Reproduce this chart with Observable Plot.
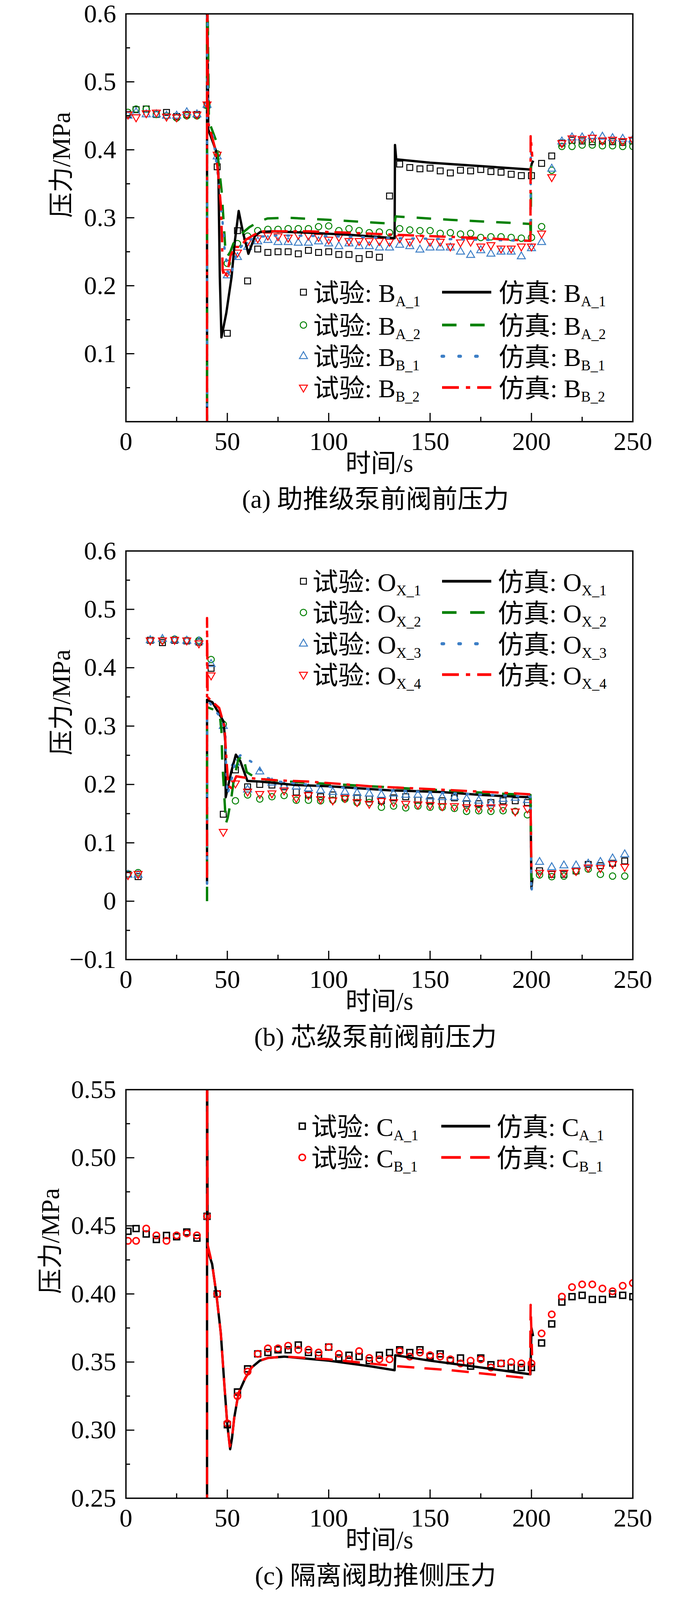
<!DOCTYPE html>
<html><head><meta charset="utf-8">
<script src="https://cdn.jsdelivr.net/npm/d3@7"></script>
<script src="https://cdn.jsdelivr.net/npm/@observablehq/plot@0.6"></script>
<style>
html,body{margin:0;padding:0;background:#fff;overflow:hidden;}
#root{position:relative;width:1772px;height:4099px;background:#fff;}
#root svg{position:absolute;left:0;}
</style></head><body><div id="root"></div>
<script>
// ---------- axis ticks ----------
const xMajor = [0, 50, 100, 150, 200, 250];
const xMinor = [25, 75, 125, 175, 225];
const yMajorA = [0.1, 0.2, 0.3, 0.4, 0.5, 0.6];
const yMinorA = [0.05, 0.15, 0.25, 0.35, 0.45, 0.55];
const yMajorB = [-0.1, 0, 0.1, 0.2, 0.3, 0.4, 0.5, 0.6];
const yMinorB = [-0.05, 0.05, 0.15, 0.25, 0.35, 0.45, 0.55];
const yMajorC = [0.25, 0.30, 0.35, 0.40, 0.45, 0.50, 0.55];
const yMinorC = [0.275, 0.325, 0.375, 0.425, 0.475, 0.525];

// ---------- panel (a) experiment ----------
const tA = [1,5,10,15,20,25,30,35,40,45,50,55,60,65,70,75,80,85,90,95,100,105,110,115,120,125,130,135,140,145,150,155,160,165,170,175,180,185,190,195,200,205,210,215,220,225,230,235,240,245,250];
const expBA1 = [0.452,0.459,0.460,0.452,0.455,0.449,0.452,0.452,0.466,
 0.375,0.130,0.281,0.207,0.254,0.249,0.250,0.250,0.247,0.252,
 0.249,0.250,0.246,0.246,0.240,0.246,0.242,0.332,0.379,0.374,
 0.372,0.373,0.369,0.366,0.370,0.369,0.371,0.368,0.367,0.364,
 0.362,0.362,0.380,0.391,0.410,0.414,0.413,0.412,0.413,0.412,
 0.411,0.413];
const expBA2 = [0.455,0.460,0.460,0.452,0.450,0.447,0.450,0.450,0.465,
 0.394,0.233,0.262,0.273,0.281,0.283,0.283,0.284,0.284,0.284,
 0.287,0.288,0.281,0.284,0.281,0.278,0.279,0.278,0.284,0.282,
 0.281,0.281,0.277,0.278,0.276,0.277,0.271,0.272,0.272,0.271,
 0.270,0.271,0.287,0.370,0.405,0.405,0.407,0.407,0.406,0.406,
 0.405,0.405];
const expBB1 = [0.450,0.455,0.452,0.452,0.450,0.450,0.455,0.452,0.466,
 0.390,0.215,0.242,0.257,0.265,0.267,0.264,0.264,0.263,0.263,
 0.265,0.262,0.258,0.262,0.258,0.258,0.256,0.256,0.260,0.258,
 0.253,0.256,0.256,0.256,0.250,0.245,0.252,0.247,0.250,0.250,
 0.243,0.255,0.264,0.372,0.412,0.418,0.418,0.420,0.419,0.417,
 0.416,0.415];
const expBB2 = [0.452,0.448,0.454,0.455,0.449,0.448,0.452,0.452,0.467,
 0.393,0.220,0.249,0.265,0.270,0.274,0.273,0.271,0.275,0.274,
 0.272,0.268,0.272,0.266,0.266,0.266,0.266,0.265,0.270,0.265,
 0.270,0.265,0.265,0.258,0.264,0.265,0.258,0.260,0.255,0.255,
 0.258,0.258,0.277,0.360,0.410,0.417,0.416,0.418,0.414,0.415,
 0.413,0.415];

// ---------- panel (a) simulation [t, p] ----------
const simBA1 = [[40,-0.05],[40,0.7],[40.6,0.43],[44.6,0.397],[45.6,0.365],[46.3,0.213],[47.1,0.124],[49.5,0.16],[52.1,0.213],[53.7,0.265],[55.6,0.31],[57.9,0.276],[60.4,0.247],[63.6,0.273],[66.2,0.279],[72,0.28],[90,0.278],[110,0.275],[132.5,0.27],[132.7,0.407],[133.3,0.386],[150,0.381],[175,0.376],[199.5,0.371],[200.2,0.38],[200.9,0.384]];
const simBA2 = [[40,-0.05],[40,0.7],[40.9,0.442],[44.5,0.413],[47.2,0.339],[47.9,0.307],[48.9,0.26],[50,0.243],[51.5,0.25],[53,0.262],[55.6,0.273],[60.8,0.286],[65.3,0.294],[69.8,0.299],[80,0.3],[100,0.297],[132.5,0.291],[133,0.302],[160,0.297],[199.4,0.291],[199.7,0.27],[199.8,0.39]];
const simBB1 = [[40,-0.05],[40,0.7],[40.5,0.44],[43,0.42],[45.5,0.36],[47.7,0.292],[48.7,0.252],[51,0.213],[52.3,0.22],[53.3,0.236],[56.1,0.255],[59,0.265],[65,0.272],[75,0.274],[100,0.273],[133,0.27],[170,0.268],[199.5,0.266],[199.7,0.4],[200.3,0.385]];
const simBB2 = [[40,-0.05],[40,0.7],[40.5,0.44],[44.2,0.4],[45.5,0.363],[46.8,0.318],[47.4,0.265],[47.7,0.223],[48.5,0.212],[50,0.22],[51.6,0.244],[53.5,0.257],[56.1,0.257],[59.3,0.268],[63.8,0.276],[67.6,0.28],[90,0.28],[110,0.278],[133,0.275],[150,0.273],[177,0.27],[199.5,0.266],[199.6,0.42],[200.4,0.39]];

// ---------- panel (b) experiment ----------
const tB = [1,6,12,18,24,30,36,42,48,54,60,66,72,78,84,90,96,102,108,114,120,126,132,138,144,150,156,162,168,174,180,186,192,198,204,210,216,222,228,234,240,246];
const expOX1 = [0.046,0.042,0.447,0.443,0.447,0.446,0.444,
 0.399,0.149,0.225,0.196,0.200,0.199,0.196,0.187,0.182,0.179,
 0.182,0.178,0.177,0.175,0.172,0.177,0.179,0.173,0.172,0.172,
 0.177,0.167,0.167,0.169,0.172,0.172,0.169,
 0.052,0.046,0.046,0.052,0.063,0.061,0.065,0.069];
const expOX2 = [0.047,0.049,0.447,0.447,0.449,0.447,0.447,
 0.414,0.303,0.172,0.182,0.175,0.179,0.181,0.173,0.173,0.172,
 0.173,0.175,0.169,0.169,0.161,0.163,0.160,0.163,0.161,0.161,
 0.159,0.154,0.155,0.154,0.155,0.154,0.148,
 0.045,0.042,0.043,0.051,0.055,0.046,0.043,0.043];
const expOX3 = [0.045,0.045,0.447,0.449,0.447,0.446,0.445,
 0.406,0.300,0.237,0.191,0.222,0.203,0.197,0.196,0.193,0.190,
 0.187,0.187,0.185,0.184,0.182,0.184,0.182,0.182,0.179,0.178,
 0.178,0.175,0.172,0.167,0.175,0.177,0.173,
 0.067,0.058,0.061,0.061,0.064,0.067,0.073,0.080];
const expOX4 = [0.045,0.047,0.447,0.447,0.448,0.447,0.442,
 0.387,0.119,0.202,0.188,0.184,0.185,0.190,0.177,0.182,0.175,
 0.173,0.177,0.170,0.167,0.172,0.170,0.167,0.166,0.165,0.163,
 0.163,0.161,0.160,0.161,0.161,0.154,0.159,
 0.049,0.048,0.049,0.052,0.058,0.057,0.064,0.059];

// ---------- panel (b) simulation ----------
const simOX1 = [[40,0.03],[40,0.345],[40.4,0.344],[42.6,0.341],[45.5,0.324],[48.1,0.308],[49,0.273],[49.2,0.178],[51.9,0.221],[54.2,0.251],[56.4,0.24],[59.9,0.206],[66,0.205],[84,0.199],[100,0.197],[130,0.19],[156,0.187],[175,0.182],[199.5,0.178],[200,0.022],[200.5,0.04]];
const simOX2 = [[40,0.0],[40,0.332],[40.4,0.332],[44.2,0.327],[46.4,0.315],[47.1,0.292],[47.5,0.24],[48.6,0.175],[49.3,0.133],[50.2,0.143],[51.9,0.175],[53.2,0.208],[55.4,0.243],[57.7,0.25],[59.6,0.221],[62.8,0.214],[69.3,0.208],[80,0.205],[100,0.201],[130,0.195],[156,0.19],[180,0.185],[199.5,0.182],[200,0.037],[200.5,0.04]];
const simOX3 = [[40,0.03],[40,0.344],[40.4,0.344],[46.4,0.316],[49,0.292],[49.3,0.24],[50,0.182],[52.5,0.214],[53.8,0.24],[56.4,0.25],[61.8,0.239],[65.7,0.227],[69.9,0.211],[75,0.205],[100,0.196],[130,0.19],[160,0.185],[199.5,0.179],[200,0.015],[200.5,0.035]];
const simOX4 = [[40,0.04],[40,0.485],[40.3,0.35],[41,0.347],[46,0.331],[48.6,0.299],[49.5,0.247],[50.5,0.198],[51.9,0.194],[54.4,0.214],[58,0.212],[64,0.21],[75,0.207],[90,0.205],[120,0.197],[156,0.191],[190,0.185],[199.5,0.183],[200,0.05],[200.5,0.05]];

// ---------- panel (c) experiment ----------
const tC = [1,5,10,15,20,25,30,35,40,45,50,55,60,65,70,75,80,85,90,95,100,105,110,115,120,125,130,135,140,145,150,155,160,165,170,175,180,185,190,195,200,205,210,215,220,225,230,235,240,245,250];
const expCA1 = [0.446,0.448,0.444,0.440,0.443,0.442,0.4455,0.441,0.457,
 0.400,0.304,0.328,0.345,0.356,0.357,0.359,0.359,0.3625,0.357,
 0.355,0.361,0.353,0.355,0.354,0.351,0.355,0.357,0.359,0.357,
 0.359,0.354,0.356,0.351,0.353,0.347,0.353,0.348,0.349,0.346,
 0.346,0.346,0.364,0.378,0.394,0.398,0.399,0.396,0.396,0.400,
 0.399,0.398];
const expCB1 = [0.439,0.439,0.448,0.443,0.439,0.443,0.4445,0.443,0.457,
 0.400,0.305,0.325,0.343,0.356,0.360,0.360,0.362,0.359,0.359,
 0.357,0.361,0.356,0.352,0.358,0.353,0.352,0.352,0.358,0.354,
 0.357,0.355,0.354,0.352,0.349,0.351,0.352,0.346,0.349,0.350,
 0.349,0.349,0.371,0.385,0.398,0.405,0.407,0.407,0.404,0.402,
 0.406,0.408];

// ---------- panel (c) simulation ----------
const simCA1 = [[40,0.2],[40,0.6],[40.3,0.432],[42.5,0.422],[44.6,0.4],[46.8,0.371],[48.6,0.332],[50,0.304],[51.4,0.286],[52.3,0.294],[53.4,0.309],[55.5,0.327],[58.8,0.338],[62,0.346],[66,0.351],[70,0.353],[78,0.354],[100,0.351],[120,0.347],[132.5,0.344],[132.8,0.355],[150,0.351],[175,0.346],[199.5,0.341],[200,0.375],[200.8,0.369]];
const simCB1 = [[40,0.2],[40,0.6],[40.3,0.436],[42.5,0.422],[44.6,0.4],[46.8,0.371],[48.6,0.332],[50,0.304],[51.2,0.288],[52.3,0.294],[53.4,0.309],[55.5,0.327],[58.8,0.338],[62,0.346],[66,0.351],[70,0.353],[78,0.354],[100,0.352],[133,0.347],[160,0.344],[199.3,0.338],[199.6,0.392],[200.3,0.355]];

// ---------- text ----------
const captions = ["(a) 助推级泵前阀前压力", "(b) 芯级泵前阀前压力", "(c) 隔离阀助推侧压力"];
const xTitle = "时间/s";
const yTitle = "压力/MPa";
const legendBase = ["B", "O", "C"];
const legendSubsA = ["A_1", "A_2", "B_1", "B_2"];
const legendSubsB = ["X_1", "X_2", "X_3", "X_4"];
const legendSubsC = ["A_1", "B_1"];

// ---------- styles ----------
const FONT = "'Liberation Serif','Times New Roman','Noto Sans CJK SC',serif";
const GREEN = "#008000", BLUE = "#3d7fc6", RED = "#ff0000";
const triangleDown = {draw(ctx, size) {
  const y = -Math.sqrt(size / (Math.sqrt(3) * 3));
  ctx.moveTo(0, -y * 2);
  ctx.lineTo(-Math.sqrt(3) * y, y);
  ctx.lineTo(Math.sqrt(3) * y, y);
  ctx.closePath();
}};
const S_SQ = {sym: d3.symbolSquare, plot: "square", r: 8.5};
const S_CI = {sym: d3.symbolCircle, plot: "circle", r: 8.2};
const S_TU = {sym: d3.symbolTriangle, plot: "triangle", r: 7.6};
const S_TD = {sym: triangleDown, plot: triangleDown, r: 7.6};
const L_SOLID = {dash: null, cap: "butt", w: 6, lw: 7, legendDash: null};
const L_DASH = {dash: "37,31", cap: "butt", w: 6, lw: 7, legendDash: "37,35"};
const L_DOT = {dash: "4,28", cap: "round", w: 6, lw: 8, legendDash: "4,39"};
const L_DASHDOT = {dash: "42,15,9,15", cap: "butt", w: 6, lw: 7, legendDash: "43,18,11,18"};
const L_DASHC = {dash: "44,26", cap: "butt", w: 6, lw: 7, legendDash: "50,24"};

function dots(t, v, color, S, sw) {
  return Plot.dot(t.map((d, i) => [d, v[i]]), {x: d => d[0], y: d => d[1], symbol: S.plot, r: S.r,
    fill: "none", stroke: color, strokeWidth: sw, clip: true});
}
function line(pairs, color, L) {
  return Plot.line(pairs, {x: d => d[0], y: d => d[1], stroke: color, strokeWidth: L.w,
    strokeDasharray: L.dash, strokeLinecap: L.cap, strokeLinejoin: "round", clip: true});
}

function makePanel(cfg) {
  const W = 1298, H = cfg.H;
  const chart = Plot.plot({
    width: 1772, height: 35 + H + cfg.mb,
    marginLeft: 322, marginRight: 152, marginTop: 35, marginBottom: cfg.mb,
    style: {fontFamily: FONT, fontSize: "66px", background: "transparent", color: "black", maxWidth: "none", overflow: "visible"},
    x: {domain: [0, 250]},
    y: {domain: cfg.yDomain},
    marks: [
      ...cfg.marks,
      Plot.frame({stroke: "black", strokeWidth: 3.5}),
      Plot.tickX(xMajor, {x: d => d, insetTop: H - 22, strokeWidth: 3, stroke: "black"}),
      Plot.tickX(xMinor, {x: d => d, insetTop: H - 12, strokeWidth: 3, stroke: "black"}),
      Plot.tickY(cfg.yMajor, {y: d => d, insetRight: W - 22, strokeWidth: 3, stroke: "black"}),
      Plot.tickY(cfg.yMinor, {y: d => d, insetRight: W - 11, strokeWidth: 3, stroke: "black"}),
      Plot.axisX(xMajor, {tickSize: 0, tickPadding: 26, fontSize: 66, tickFormat: d => String(d), label: null}),
      Plot.axisY(cfg.yLabels, {tickSize: 0, tickPadding: 25, fontSize: 66, tickFormat: cfg.fmt, label: null}),
      Plot.text([xTitle], {frameAnchor: "bottom", dy: 128, fontSize: 65}),
      Plot.text([yTitle], {frameAnchor: "left", dx: cfg.ylDx, rotate: -90, fontSize: 65}),
      Plot.text([cfg.caption], {frameAnchor: "bottom", dy: 220, dx: -10, fontSize: 66})
    ]
  });
  chart.style.top = cfg.top + "px";
  document.getElementById("root").appendChild(chart);
  addLegend(chart, cfg.legend);
}

function addLegend(svgEl, L) {
  const g = d3.select(svgEl).append("g")
    .attr("font-family", FONT).attr("fill", "black").attr("text-anchor", "start");
  L.subs.forEach((sub, i) => {
    const y = L.rows[i];
    const it = L.items[i];
    g.append("path").attr("d", d3.symbol(it.S.sym, Math.PI * it.S.r * it.S.r)())
      .attr("transform", `translate(${L.mx},${y})`)
      .attr("fill", "none").attr("stroke", it.color).attr("stroke-width", it.msw);
    const t1 = g.append("text").attr("x", L.tx1).attr("y", y + 25).attr("font-size", 66);
    t1.append("tspan").text("试验: " + L.base);
    t1.append("tspan").attr("font-size", 37).attr("dy", 11).text(sub);
    g.append("line").attr("x1", L.lx1).attr("x2", L.lx2).attr("y1", y).attr("y2", y)
      .attr("stroke", it.color).attr("stroke-width", it.L.lw)
      .attr("stroke-dasharray", it.L.legendDash).attr("stroke-linecap", it.L.cap);
    const t2 = g.append("text").attr("x", L.tx2).attr("y", y + 25).attr("font-size", 66);
    t2.append("tspan").text("仿真: " + L.base);
    t2.append("tspan").attr("font-size", 37).attr("dy", 11).text(sub);
  });
}

const itemsA = [
  {S: S_SQ, color: "black", msw: 2.5, L: L_SOLID},
  {S: S_CI, color: GREEN, msw: 2.5, L: L_DASH},
  {S: S_TU, color: BLUE, msw: 2.5, L: L_DOT},
  {S: S_TD, color: RED, msw: 2.5, L: L_DASHDOT}
];
const itemsC = [
  {S: S_SQ, color: "black", msw: 3.8, L: L_SOLID},
  {S: S_CI, color: RED, msw: 3.8, L: L_DASHC}
];

// Panel (a)
makePanel({
  top: 0, H: 1044, mb: 300, yDomain: [0, 0.6], yMajor: yMajorA, yMinor: yMinorA, yLabels: yMajorA,
  fmt: d => d.toFixed(1), ylDx: -164, caption: captions[0],
  marks: [
    dots(tA, expBA1, "black", S_SQ, 2.5),
    dots(tA, expBA2, GREEN, S_CI, 2.5),
    dots(tA, expBB1, BLUE, S_TU, 2.5),
    dots(tA, expBB2, RED, S_TD, 2.5),
    line(simBA1, "black", L_SOLID),
    line(simBA2, GREEN, L_DASH),
    line(simBB1, BLUE, L_DOT),
    line(simBB2, RED, L_DASHDOT)
  ],
  legend: {base: legendBase[0], subs: legendSubsA, items: itemsA, rows: [748, 832, 912, 992],
    mx: 777, tx1: 802, lx1: 1132, lx2: 1258, tx2: 1277}
});

// Panel (b)
makePanel({
  top: 1375, H: 1046, mb: 300, yDomain: [-0.1, 0.6], yMajor: yMajorB, yMinor: yMinorB, yLabels: yMajorB,
  fmt: d => Math.abs(d) < 1e-9 ? "0" : (d < 0 ? "\u2212" : "") + Math.abs(d).toFixed(1), ylDx: -164, caption: captions[1],
  marks: [
    dots(tB, expOX1, "black", S_SQ, 2.5),
    dots(tB, expOX2, GREEN, S_CI, 2.5),
    dots(tB, expOX3, BLUE, S_TU, 2.5),
    dots(tB, expOX4, RED, S_TD, 2.5),
    line(simOX1, "black", L_SOLID),
    line(simOX2, GREEN, L_DASH),
    line(simOX3, BLUE, L_DOT),
    line(simOX4, RED, L_DASHDOT)
  ],
  legend: {base: legendBase[1], subs: legendSubsB, items: itemsA, rows: [113, 193, 273, 352],
    mx: 777, tx1: 800, lx1: 1132, lx2: 1258, tx2: 1275}
});

// Panel (c)
makePanel({
  top: 2754, H: 1046, mb: 264, yDomain: [0.25, 0.55], yMajor: yMajorC, yMinor: yMinorC, yLabels: yMajorC,
  fmt: d => d.toFixed(2), ylDx: -192, caption: captions[2],
  marks: [
    dots(tC, expCA1, "black", S_SQ, 3.8),
    dots(tC, expCB1, RED, S_CI, 3.8),
    line(simCA1, "black", L_SOLID),
    line(simCB1, RED, L_DASHC)
  ],
  legend: {base: legendBase[2], subs: legendSubsC, items: itemsC, rows: [129, 209],
    mx: 774, tx1: 797, lx1: 1130, lx2: 1255, tx2: 1272}
});
</script>
</body></html>
